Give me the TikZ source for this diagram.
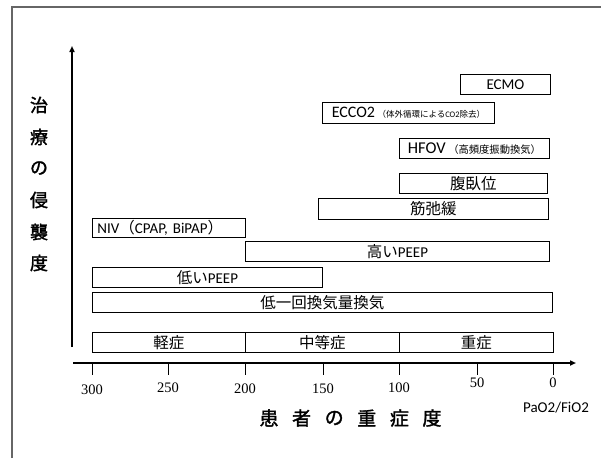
\documentclass[tikz,border=0pt]{standalone}
\usepackage{fontspec}
\setmainfont{Carlito}
\newfontfamily\jp{Noto Sans CJK JP}
\newfontfamily\jpb[FakeBold=1.6]{Noto Sans CJK JP}
\newfontfamily\numf{Liberation Serif}
\usetikzlibrary{arrows.meta}
\newcommand{\cj}[1]{{\jp\fontsize{15.5}{15.5}\selectfont #1}}
\begin{document}
\begin{tikzpicture}[x=1pt,y=-1pt,
  tbox/.style={draw=black, line width=0.9pt, inner sep=0pt, anchor=north west,
    minimum height=20pt, font=\fontsize{15}{15}\selectfont},
  axis/.style={line width=1.8pt, -{Triangle[length=6pt,width=5pt]}},
  tick/.style={line width=0.9pt},
  num/.style={font=\numf\fontsize{14.5}{14.5}\selectfont, inner sep=0pt},
  vlab/.style={font=\jpb\fontsize{18}{18}\selectfont, inner sep=0pt},
  hlab/.style={font=\jpb\fontsize{19}{19}\selectfont, inner sep=0pt}
]
\useasboundingbox (0,0) rectangle (601,458);
\draw[gray!80!black, line width=1.3pt] (12,458) -- (12,7) -- (601,7);

% boxes
\node[tbox, minimum width=90pt] (ecmo) at (460,74) {ECMO};
\node[tbox, minimum width=172pt, minimum height=21pt] (ecco) at (322,102) {{\fontsize{16}{16}\selectfont ECCO2}\,{\jp\fontsize{8.5}{8.5}\selectfont （体外循環による}{\fontsize{8.5}{8.5}\selectfont CO2}{\jp\fontsize{8.5}{8.5}\selectfont 除去）}};
\node[tbox, minimum width=150pt] (hfov) at (399,138) {{\fontsize{16.5}{16.5}\selectfont HFOV}\,{\jp\fontsize{10.3}{10.3}\selectfont （高頻度振動換気）}};
\node[tbox, minimum width=148pt] (prone) at (399,173) {\cj{腹臥位}};
\node[tbox, minimum width=230pt, minimum height=21pt] (nmb) at (318,198) {\cj{筋弛緩}};
\node[tbox, minimum width=153pt, minimum height=19pt, text width=143pt, align=left] (niv) at (92,218) {NIV\cj{（}CPAP, BiPAP\cj{）}};
\node[tbox, minimum width=304pt] (hpeep) at (245,241) {\cj{高い}PEEP};
\node[tbox, minimum width=230pt] (lpeep) at (92,267) {\cj{低い}PEEP};
\node[tbox, minimum width=460pt] (ltv) at (92,292) {\cj{低一回換気量換気}};
\node[tbox, minimum width=153pt] (mild) at (92,332) {\cj{軽症}};
\node[tbox, minimum width=154pt] (mod) at (245,332) {\cj{中等症}};
\node[tbox, minimum width=154pt] (sev) at (399,332) {\cj{重症}};

% axes
\coordinate (yb) at (72,347);
\coordinate (yt) at (72,46);
\coordinate (xl) at (73,363);
\coordinate (xr) at (576,363);
\draw[axis] (yb) -- (yt);
\draw[axis] (xl) -- (xr);

% ticks
\foreach \v/\x/\ly in {300/92/390, 250/168/388, 200/245/389, 150/323/389, 100/399/388, 50/477/383, 0/553/383}{
  \coordinate (t\v) at (\x,363);
  \coordinate (tb\v) at (\x,375);
  \draw[tick] (t\v) -- (tb\v);
  \node[num] (n\v) at (\x,\ly) {\v};
}
\node[inner sep=0pt, font=\fontsize{15}{15}\selectfont] (pf) at (556,408) {PaO2/FiO2};

% horizontal axis label
\foreach \c [count=\i from 0] in {患,者,の,重,症,度}{
  \node[hlab] (h\i) at (269+32.6*\i,418) {\c};
}

% vertical label
\foreach \c/\y [count=\i] in {治/105, 療/137, の/168, 侵/200, 襲/232, 度/263}{
  \node[vlab] (v\i) at (39,\y) {\c};
}
\end{tikzpicture}
\end{document}
